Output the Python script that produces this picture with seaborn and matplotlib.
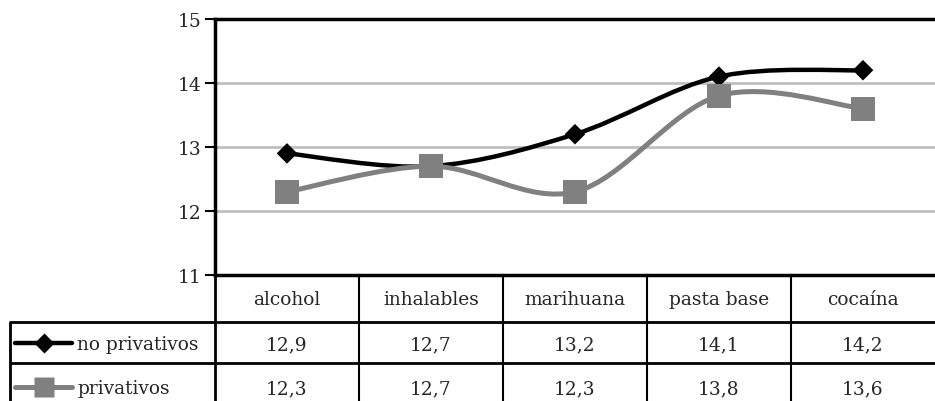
import numpy as np
import pandas as pd
import matplotlib
matplotlib.use('Agg')
import matplotlib.pyplot as plt
from matplotlib.path import Path
from matplotlib.patches import PathPatch
import seaborn as sns

categories = ['alcohol', 'inhalables', 'marihuana', 'pasta base', 'cocaína']
no_privativos = [12.9, 12.7, 13.2, 14.1, 14.2]
privativos = [12.3, 12.7, 12.3, 13.8, 13.6]
series_names = ['no privativos', 'privativos']
value_labels = [['12,9', '12,7', '13,2', '14,1', '14,2'],
                ['12,3', '12,7', '12,3', '13,8', '13,6']]

sns.set_style('white')
plt.rcParams['font.family'] = ['DejaVu Serif']
FS = 13.4

W, H = 935, 402
fig = plt.figure(figsize=(W / 100, H / 100), dpi=100)

x0, x1, ytop, ybot = 215, 935, 20, 276
ax = fig.add_axes([x0 / W, 1 - ybot / H, (x1 - x0) / W, (ybot - ytop) / H])

df = pd.DataFrame({'cat': list(range(len(categories))) * 2,
                   'val': no_privativos + privativos,
                   'serie': [series_names[0]] * 5 + [series_names[1]] * 5})

colors = {'no privativos': 'black', 'privativos': '#808080'}
lw = {'no privativos': 3.2, 'privativos': 3.6}


def smooth_path(xs, ys):
    # Excel-style smoothed line: cubic Bezier segments, Catmull-Rom control points
    pts = np.column_stack([xs, ys]).astype(float)
    n = len(pts)
    verts = [pts[0]]
    codes = [Path.MOVETO]
    for i in range(n - 1):
        p0 = pts[max(i - 1, 0)]
        p1 = pts[i]
        p2 = pts[i + 1]
        p3 = pts[min(i + 2, n - 1)]
        c1 = p1 + (p2 - p0) / 6
        c2 = p2 - (p3 - p1) / 6
        verts += [c1, c2, p2]
        codes += [Path.CURVE4] * 3
    return Path(verts, codes)


for name in series_names:
    sub = df[df['serie'] == name]
    ax.add_patch(PathPatch(smooth_path(sub['cat'], sub['val']), fill=False,
                           edgecolor=colors[name], lw=lw[name], zorder=3,
                           capstyle='round', joinstyle='round'))

sns.scatterplot(data=df, x='cat', y='val', hue='serie', style='serie',
                palette=colors, markers={'no privativos': 'D', 'privativos': 's'},
                size='serie', sizes={'no privativos': 110, 'privativos': 300},
                edgecolor='none', legend=False, ax=ax, zorder=4)

ax.set_xlim(-0.5, len(categories) - 0.5)
ax.set_ylim(11, 15)
ax.set_yticks([11, 12, 13, 14, 15])
ax.set_xticks([])
ax.set_xlabel('')
ax.set_ylabel('')
ax.yaxis.grid(True, color='#c0c0c0', lw=2)
ax.tick_params(axis='y', left=True, length=7, width=1.5, color='black',
               labelsize=FS, pad=3)
for side in ['left', 'top', 'bottom']:
    ax.spines[side].set_color('black')
    ax.spines[side].set_linewidth(2.5)
ax.spines['right'].set_visible(False)

# data table below the plot, in pixel coordinates
tab = fig.add_axes([0, 0, 1, 1])
tab.set_xlim(0, W)
tab.set_ylim(H, 0)
tab.axis('off')
colw = (x1 - x0) / len(categories)
row_y = [276, 323, 364]
text_y = [300, 345, 389]
xleft = 10

for i, cat in enumerate(categories):
    tab.text(x0 + (i + 0.5) * colw, text_y[0], cat,
             ha='center', va='center', fontsize=FS)
    for r in range(2):
        tab.text(x0 + (i + 0.5) * colw, text_y[r + 1],
                 value_labels[r][i], ha='center', va='center', fontsize=FS)

# grid lines of the table
for y in row_y[1:]:
    tab.plot([xleft, W], [y, y], color='black', lw=2, solid_capstyle='butt')
for i in range(1, len(categories)):
    tab.plot([x0 + i * colw] * 2, [row_y[0], H], color='black', lw=1.5)
tab.plot([x0, x0], [row_y[0], H], color='black', lw=2)
tab.plot([xleft, xleft], [row_y[1], H], color='black', lw=2)

# legend keys inside the table
for r, name in enumerate(series_names):
    yc = text_y[r + 1] - 1
    tab.plot([15, 72], [yc, yc], color=colors[name], lw=lw[name],
             solid_capstyle='round')
    tab.plot([43.5], [yc], marker='D' if r == 0 else 's',
             markersize=10 if r == 0 else 14, color=colors[name], mec='none')
    tab.text(77, text_y[r + 1], name, ha='left', va='center', fontsize=FS)

fig.savefig('out.png', dpi=100)
